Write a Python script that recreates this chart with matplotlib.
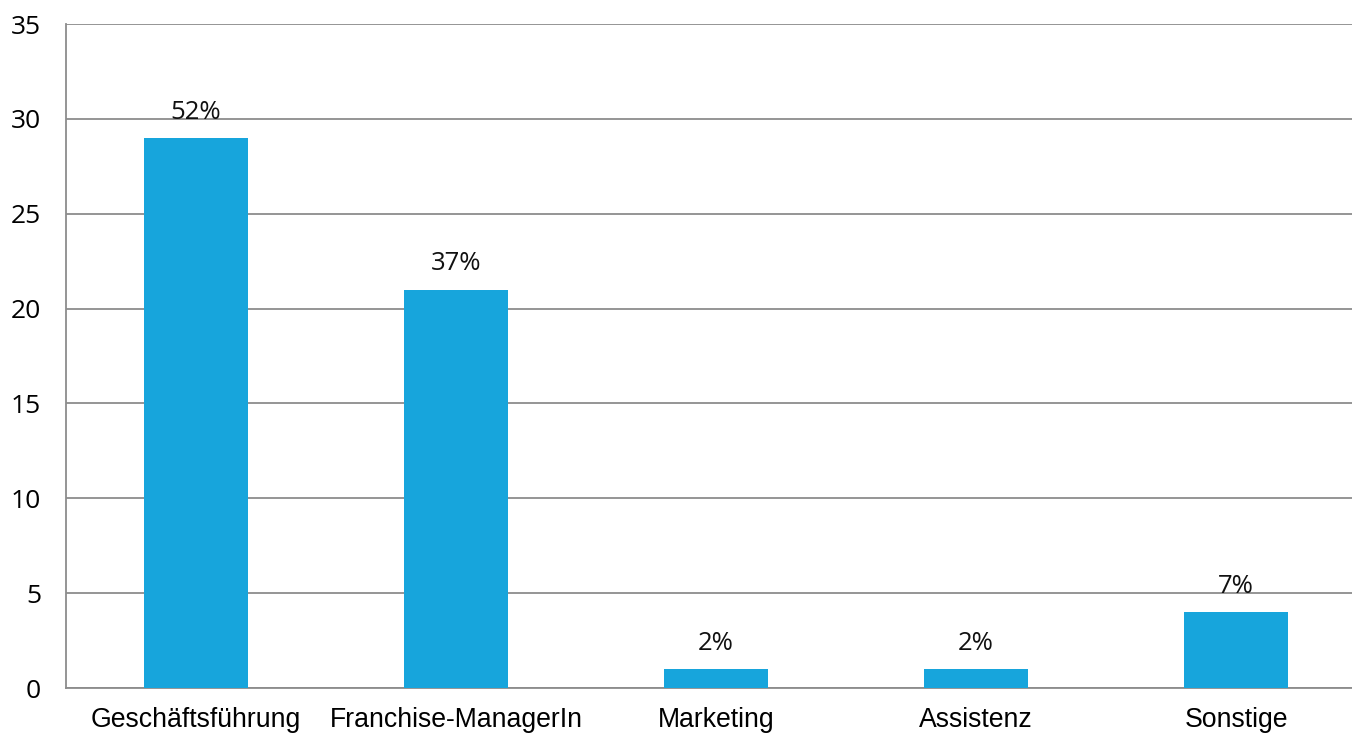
import matplotlib.pyplot as plt

# Data
categories = ["Geschäftsführung", "Franchise-ManagerIn", "Marketing", "Assistenz", "Sonstige"]
counts = [29, 21, 1, 1, 4]
pct_labels = ["52%", "37%", "2%", "2%", "7%"]

BAR_COLOR = "#17A5DC"
GRID_COLOR = "#8C8C8C"

fig = plt.figure(figsize=(13.52, 7.35), dpi=100)
ax = fig.add_axes([66 / 1352, 47 / 735, 1300 / 1352, 664 / 735])

x = range(len(categories))
ax.bar(x, counts, width=0.4, color=BAR_COLOR, zorder=3)

for xi, v, lab in zip(x, counts, pct_labels):
    ax.annotate(lab, (xi, v), xytext=(0, 18.5), textcoords="offset points",
                ha="center", va="center", fontsize=18.5, family="Open Sans",
                color="#111111", zorder=4)

ax.set_xlim(-0.5, 4.5)
ax.set_ylim(0, 35)
ax.set_yticks(range(0, 36, 5))
ax.set_xticks(list(x))
ax.set_xticklabels(categories, fontsize=19.2, family="Liberation Sans")
for t in ax.get_yticklabels():
    t.set_family("Open Sans")
    t.set_fontsize(19)

ax.yaxis.grid(True, color=GRID_COLOR, linewidth=1.3, zorder=0)
ax.set_axisbelow(True)
ax.tick_params(length=0)
ax.tick_params(axis="y", pad=18)
ax.tick_params(axis="x", pad=14)
for s in ["top", "right"]:
    ax.spines[s].set_visible(False)
for s in ["left", "bottom"]:
    ax.spines[s].set_color(GRID_COLOR)
    ax.spines[s].set_linewidth(1.3)

fig.savefig("out.png", dpi=100)
